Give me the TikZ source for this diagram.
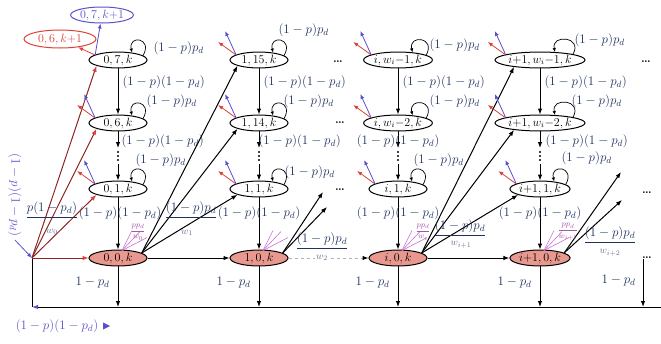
\RequirePackage{fix-cm}
\documentclass[tikz,border=0pt]{standalone}
\usepackage{amsmath,amssymb}
\usepackage{xcolor}
\usepackage{tikz}
\usetikzlibrary{arrows.meta,calc,positioning,shapes.geometric}

\definecolor{labblue}{RGB}{30,50,95}
\definecolor{stfill}{RGB}{232,152,142}
\definecolor{rdarr}{RGB}{220,65,55}
\definecolor{blarr}{RGB}{90,80,205}
\definecolor{brln}{RGB}{140,40,35}
\definecolor{pkln}{RGB}{205,110,215}

\begin{document}
\begin{tikzpicture}[x=1pt,y=-1pt,line width=1pt,font=\fontsize{13}{15}\selectfont,
  >={Latex[length=6pt,width=4.5pt]},
  st/.style={draw,ellipse,minimum width=58pt,minimum height=15pt,inner sep=0.3pt,font=\fontsize{12}{14}\selectfont},
  st0/.style={st,fill=stfill},
  lab/.style={text=labblue,inner sep=1pt},
  den/.style={text=labblue!70,inner sep=1pt,font=\fontsize{10}{12}\selectfont},
  lp/.style={-{Latex[length=4pt,width=3.5pt]},line width=0.7pt},
  redarr/.style={rdarr,line width=0.8pt,-{Latex[length=5pt,width=4pt]}},
  bluarr/.style={blarr,line width=0.8pt,-{Latex[length=5pt,width=4pt]}},
  jarr/.style={brln,-{Latex[length=6pt,width=4.5pt,color=rdarr]}},
  pk/.style={pkln,line width=0.6pt},
  dotnd/.style={inner sep=0pt,font=\bfseries},
  vdot/.style={inner sep=0pt,outer sep=2pt,minimum width=3pt,minimum height=12pt}]
\useasboundingbox (0,0) rectangle (661,343);

% states, column 0
\node[st] (s07) at (118,60) {$0,7,k$};
\node[st] (s06) at (118,123) {$0,6,k$};
\node[st] (s01) at (118,189) {$0,1,k$};
\node[st0] (s00) at (118,258) {$0,0,k$};
\node[vdot] (d0) at (118,156) {};
\node[st,draw=rdarr,text=rdarr,minimum width=72pt,minimum height=18pt] (nx6) at (60,39) {$0,6,k{+}1$};
\node[st,draw=blarr,text=blarr,minimum width=62pt,minimum height=16pt] (nx7) at (102,15) {$0,7,k{+}1$};
% column 1
\node[st] (s115) at (259,60) {$1,15,k$};
\node[st] (s114) at (259,123) {$1,14,k$};
\node[st] (s11) at (259,189) {$1,1,k$};
\node[st0] (s10) at (259,258) {$1,0,k$};
\node[vdot] (d1) at (259,156) {};
% column i
\node[st] (si7) at (398,60) {$i,w_i{-}1,k$};
\node[st] (si6) at (398,123) {$i,w_i{-}2,k$};
\node[st] (si1) at (398,189) {$i,1,k$};
\node[st0] (si0) at (398,258) {$i,0,k$};
\node[vdot] (di) at (398,156) {};
% column i+1
\node[st] (sj7) at (540,60) {$i{+}1,w_i{-}1,k$};
\node[st] (sj6) at (540,123) {$i{+}1,w_i{-}2,k$};
\node[st] (sj1) at (540,189) {$i{+}1,1,k$};
\node[st0] (sj0) at (540,258) {$i{+}1,0,k$};
\node[vdot] (dj) at (540,156) {};
\foreach \n in {d0,d1,di,dj}
  \foreach \dy in {-4,0,4}
    \fill ($(\n)+(0,\dy)$) circle (1.2pt);

% horizontal dots
\node[dotnd] (dh1) at (338,62) {\large\ldots};
\node[dotnd] (dh2) at (340,123) {\large\ldots};
\node[dotnd] (dh3) at (340,190) {\large\ldots};
\node[dotnd] (dh4) at (646,62) {\large\ldots};
\node[dotnd] (dh5) at (647,193) {\large\ldots};
\node[dotnd] (dk) at (647,258) {\large\ldots};

% self loops
\foreach \n in {s07,s06,s01,s115,s114,s11,si7,si6,si1,sj7,sj6,sj1}
  \draw[lp] (\n.10) .. controls +(10,-18) and +(-4,-18) .. (\n.28);
\foreach \n/\dx/\dy in {s07/34/-12, s06/27/-22, s01/16/-29, s115/18/-30, s114/23/-22, s11/24/-17,
    si7/30/-15, si6/30/-22, si1/14/-29, sj7/33/-20, sj6/30/-22, sj1/20/-31}
  \node[lab,anchor=west] (l\n) at ($(\n)+(\dx,\dy)$) {$(1-p)p_d$};

% down the columns
\foreach \a/\b in {s07/s06,s115/s114,si7/si6,sj7/sj6}
  \draw[->] (\a) -- (\b) node[lab,right=3pt,pos=.3] (m\a) {$(1-p)(1-p_d)$};
\foreach \a/\d/\b/\an/\dx in {s06/d0/s01/west/2, s114/d1/s11/west/-2, si6/di/si1/center/0, sj6/dj/sj1/west/4} {
  \draw[->] (\a) -- (\d);
  \draw[->] (\d) -- (\b);
  \node[lab,anchor=\an] (q\a) at ($(\a |- 0,141)+(\dx,0)$) {$(1-p)(1-p_d)$};
}
\foreach \a/\b/\dx in {s01/s00/2,s11/s10/0,si1/si0/0,sj1/sj0/0}
  \draw[->] (\a) -- (\b) node[lab,pos=.3,xshift=\dx] (r\a) {$(1-p)(1-p_d)$};

% bottom return line
\coordinate (cb) at (32,307);
\coordinate (ce) at (661,307);
\coordinate (jn) at (32,258);
\coordinate (bk) at (643,307);
\foreach \a in {s00,s10,si0,sj0}
  \draw[->] (\a) -- (\a |- cb) node[lab,pos=.4,left=7pt] (p\a) {$1-p_d$};
\draw[->] (bk |- dk.south) -- (bk) node[lab,pos=.45,left=6pt] (pk) {$1-p_d$};
\draw[-{Latex[length=6pt,width=4.5pt,color=blarr]}] (ce) -- (cb);
\draw (cb) -- (jn);

% from the junction into column 0
\draw[jarr] (jn) -- (s00);
\foreach \t in {s01,s06,s07}
  \draw[jarr] (jn) -- (\t.195);
\node[text=blarr,rotate=-90] (bl) at (15,195) {$(1-p)(1-p_d)$};
\draw[bluarr] (bl.east) -- (jn);
\node[text=blarr] (bl2) at (57,326) {$(1-p)(1-p_d)$};
\fill[blarr] ($(bl2.east)+(1,-3.5)$) -- ++(7,3.5) -- ++(-7,3.5) -- cycle;

% between columns
\draw[->] (s00) -- (s10);
\draw[gray!60,dashed,-{Latex[length=6pt,width=4.5pt,color=black]}] (s10) -- (si0);
\draw[->] (si0) -- (sj0);
\foreach \t in {s115,s114,s11}
  \draw[->] (s00.12) -- (\t.195);
\foreach \t in {sj7,sj6,sj1}
  \draw[->] (si0.12) -- (\t.195);
\coordinate (e1) at (323,192);
\coordinate (e2) at (327,207);
\coordinate (e3) at (621,172);
\coordinate (e4) at (622,200);
\draw[->] (s10.12) -- (e1);
\draw[->] (s10.12) -- (e2);
\draw[->] (sj0.12) -- (e3);
\draw[->] (sj0.12) -- (e4);

% red / blue stubs to the next stage
\coordinate (os07) at ($(s07.north west)+(-2,1)$);
\draw[redarr] (os07) -- (nx6);
\draw[bluarr] (os07) -- (nx7);
\foreach \n in {s06,s01,s115,s114,s11,si7,si6,si1,sj7,sj6,sj1} {
  \coordinate (o\n) at ($(\n.north west)+(-2,1)$);
  \draw[redarr] (o\n) -- +(-18,-13);
  \draw[bluarr] (o\n) -- +(-11,-24);
}

% pink fans
\foreach \n in {s00,s10,si0,sj0} {
  \coordinate (k\n) at ($(\n.north)+(4,1)$);
  \draw[pk] (k\n) -- +(10,-20);
  \draw[pk] (k\n) -- +(18,-19);
  \draw[pk] (k\n) -- +(25,-13);
}
\foreach \n/\w/\dx in {s00/w_0/20, si0/w_i/25, sj0/w_{i+1}/28}
  \node[text=pkln!80!black,font=\fontsize{8}{9}\selectfont,inner sep=0pt] (h\n) at ($(\n)+(\dx,-26)$) {$\dfrac{pp_d}{\w}$};

% transition fractions
\node[lab] (f0) at (52,210) {$\underline{p(1-p_d)}$};
\node[den] (g0) at (52,232) {$w_0$};
\node[lab] (f1) at (191,210) {$\underline{(1-p)p_d}$};
\node[den] (g1) at (187,233) {$w_1$};
\node[lab] (f2) at (322,241) {$\underline{(1-p)p_d}$};
\node[den,fill=white] (g2) at (322,258) {$w_2$};
\node[lab] (fi) at (460,228) {$\underline{(1-p)p_d}$};
\node[den] (gi) at (461,245) {$w_{i+1}$};
\node[lab] (fj) at (610,235) {$\underline{(1-p)p_d}$};
\node[den] (gj) at (610,253) {$w_{i+2}$};
\end{tikzpicture}
\end{document}
